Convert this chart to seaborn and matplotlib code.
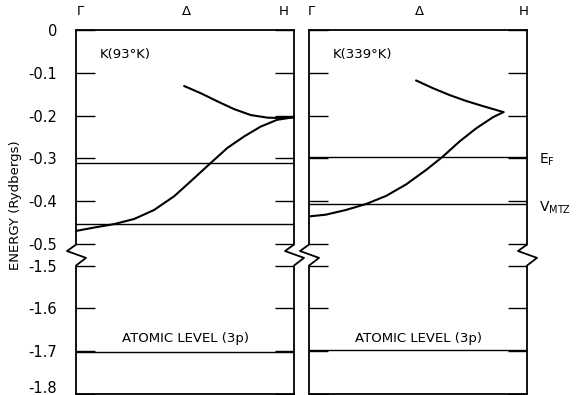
import numpy as np
import pandas as pd
import matplotlib
matplotlib.use("Agg")
import matplotlib.pyplot as plt
import seaborn as sns

sns.set_theme(style="white")
plt.rcParams["font.family"] = ["DejaVu Sans"]
plt.rcParams["mathtext.fontset"] = "dejavusans"

# ---------------- data ----------------
panel_titles = ["K(93°K)", "K(339°K)"]
kpoint_labels = ["Γ", "Δ", "H"]
ytick_values = [0, -0.1, -0.2, -0.3, -0.4, -0.5, -1.5, -1.6, -1.7, -1.8]
ytick_labels = ["0", "-0.1", "-0.2", "-0.3", "-0.4", "-0.5", "-1.5", "-1.6", "-1.7", "-1.8"]

# 93 K band structure along Gamma-Delta-H (k as fraction of Gamma->H)
k93_lower = [0.0, 0.084, 0.175, 0.267, 0.358, 0.45, 0.526, 0.618, 0.694, 0.771, 0.847, 0.923, 1.0]
e93_lower = [-0.470, -0.462, -0.454, -0.442, -0.421, -0.389, -0.354, -0.311, -0.276, -0.249,
             -0.226, -0.210, -0.204]
k93_upper = [0.496, 0.573, 0.649, 0.725, 0.802, 0.878, 0.939, 1.0]
e93_upper = [-0.131, -0.148, -0.167, -0.185, -0.199, -0.205, -0.206, -0.204]

# 339 K band structure
k339_lower = [0.0, 0.077, 0.169, 0.262, 0.354, 0.446, 0.538, 0.614, 0.690, 0.767, 0.844, 0.892]
e339_lower = [-0.436, -0.432, -0.421, -0.407, -0.388, -0.361, -0.327, -0.296, -0.261, -0.230,
              -0.204, -0.192]
k339_upper = [0.491, 0.568, 0.644, 0.721, 0.798, 0.892]
e339_upper = [-0.118, -0.136, -0.152, -0.166, -0.178, -0.192]

fermi_levels = [-0.311, -0.297]
vmtz_levels = [-0.454, -0.408]
atomic_levels = [-1.702, -1.697]

# ---------------- helpers ----------------
GAP = 0.0514  # visual gap of the broken energy axis


def squash(e):
    e = np.asarray(e, dtype=float)
    return np.where(e >= -0.5, e, e + 1.0 - GAP)


def band_frame(k_lo, e_lo, k_up, e_up):
    return pd.concat([
        pd.DataFrame({"k": k_lo, "E": squash(e_lo), "band": "lower"}),
        pd.DataFrame({"k": k_up, "E": squash(e_up), "band": "upper"}),
    ], ignore_index=True)


frames = [band_frame(k93_lower, e93_lower, k93_upper, e93_upper),
          band_frame(k339_lower, e339_lower, k339_upper, e339_upper)]

W, H = 578, 395
fig = plt.figure(figsize=(W / 100, H / 100), dpi=100)
top_px, bot_px = 30, 394
panels_px = [(76, 294), (309, 527)]

axes = []
for (x0, x1) in panels_px:
    ax = fig.add_axes([x0 / W, 1 - bot_px / H, (x1 - x0) / W, (bot_px - top_px) / H])
    axes.append(ax)

lw_spine = 1.3
for i, ax in enumerate(axes):
    df = frames[i]
    pw = panels_px[i][1] - panels_px[i][0]
    sns.lineplot(data=df, x="k", y="E", units="band", estimator=None, sort=False,
                 color="black", lw=1.5, ax=ax, legend=False)
    ax.axhline(fermi_levels[i], color="black", lw=1.0)
    ax.axhline(vmtz_levels[i], color="black", lw=1.0)
    ax.axhline(squash(atomic_levels[i]), color="black", lw=1.0)

    ax.set_xlim(0, 1)
    ax.set_ylim(float(squash(-1.8)), 0)
    ax.set_xlabel("")
    ax.set_ylabel("")
    ax.set_xticks([])
    ax.set_yticks(squash(ytick_values))
    if i == 0:
        ax.set_yticklabels(ytick_labels[:-1] + [""])
    else:
        ax.set_yticklabels([])
    ax.tick_params(axis="y", direction="in", length=14, width=1.0, left=True, right=True,
                   labelsize=10.5, pad=13.5, colors="black")
    for s in ["top", "bottom"]:
        ax.spines[s].set_visible(True)
        ax.spines[s].set_color("black")
        ax.spines[s].set_linewidth(lw_spine)
    for s in ["left", "right"]:
        ax.spines[s].set_visible(False)

    # broken vertical borders with zig-zag
    tr = ax.get_yaxis_transform()
    dx_l = -9 / pw
    dx_r = 10 / pw
    zig_y = [0.0, -0.502, -0.517, -0.533, -0.551, float(squash(-1.8))]
    for xs in (0.0, 1.0):
        zig_x = [xs, xs, xs + dx_l, xs + dx_r, xs, xs]
        ax.plot(zig_x, zig_y, color="black", lw=lw_spine, transform=tr, clip_on=False)

    # k-point labels above
    kx = [0.02 if i == 0 else 0.012, 0.505, 0.954 if i == 0 else 0.986]
    for lab, xk in zip(kpoint_labels, kx):
        ax.text(xk, 1.05, lab, transform=ax.transAxes, ha="center", va="center",
                fontsize=9.5, color="black")

    ax.text(0.107, 0.934, panel_titles[i], transform=ax.transAxes, ha="left",
            va="center", fontsize=9.5, color="black")
    ax.text(0.503, float(squash(-1.7)) + 0.015, "ATOMIC LEVEL (3p)", transform=tr,
            ha="center", va="bottom", fontsize=9.5, color="black")

    if i == 0:
        # bottom tick label, nudged up so that it stays inside the figure
        ax.text(-19 / pw, float(squash(-1.8)) + 0.013, ytick_labels[-1], transform=tr,
                ha="right", va="center", fontsize=10.5, color="black", clip_on=False)

axes[1].text(1.055, fermi_levels[1] - 0.006, r"E$_{\mathrm{F}}$", transform=axes[1].get_yaxis_transform(),
             ha="left", va="center", fontsize=10, color="black", clip_on=False)
axes[1].text(1.055, vmtz_levels[1] - 0.008, r"V$_{\mathrm{MTZ}}$", transform=axes[1].get_yaxis_transform(),
             ha="left", va="center", fontsize=10, color="black", clip_on=False)

fig.text(16 / W, 1 - 205 / H, "ENERGY (Rydbergs)", rotation=90, ha="center", va="center",
         fontsize=9.5, color="black")

fig.savefig("out.png", dpi=100)
